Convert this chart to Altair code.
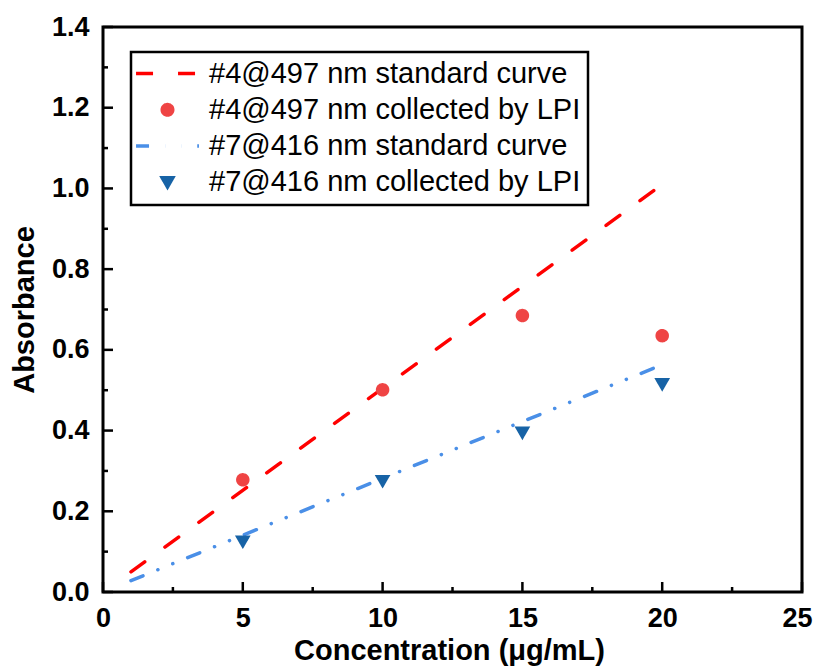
import altair as alt
import pandas as pd

# ---- data ----
series_names = [
    "#4@497 nm standard curve",
    "#4@497 nm collected by LPI",
    "#7@416 nm standard curve",
    "#7@416 nm collected by LPI",
]
series_colors = ["#FF0000", "#EF4444", "#4A8FE7", "#1763A6"]
series_shapes = ["M-6,0H6", "circle", "M-6,0H6", "triangle-down"]
series_dash = [[17, 25], [1, 0], [13, 16, 0.1, 16, 0.1, 16], [1, 0]]

std_x = [1, 20]
std4_y = [0.05, 1.01]
std7_y = [0.028, 0.563]

conc = [5, 10, 15, 20]
lpi4 = [0.278, 0.501, 0.685, 0.635]
lpi7 = [0.125, 0.275, 0.395, 0.515]

x_major = [0, 5, 10, 15, 20, 25]
x_minor = [2.5, 7.5, 12.5, 17.5, 22.5]
y_major = [0.0, 0.2, 0.4, 0.6, 0.8, 1.0, 1.2, 1.4]
y_minor = [0.1, 0.3, 0.5, 0.7, 0.9, 1.1, 1.3]

FONT = "Liberation Sans"
W, H = 699, 565

std_df = pd.DataFrame({
    "x": std_x + std_x,
    "y": std4_y + std7_y,
    "series": [series_names[0]] * 2 + [series_names[2]] * 2,
})
pt_df = pd.DataFrame({
    "x": conc + conc,
    "y": lpi4 + lpi7,
    "series": [series_names[1]] * 4 + [series_names[3]] * 4,
})

xs = alt.Scale(domain=[0, 25], nice=False, zero=False)
ys = alt.Scale(domain=[0, 1.4], nice=False, zero=False)
color_scale = alt.Scale(domain=series_names, range=series_colors)
shape_scale = alt.Scale(domain=series_names, range=series_shapes)
dash_scale = alt.Scale(domain=series_names, range=series_dash)

x_axis = alt.Axis(
    values=x_major, ticks=False, tickSize=0, domain=False, grid=False,
    labelFont=FONT, labelFontSize=27, labelFontWeight="bold", labelColor="black",
    labelPadding=13, labelFlush=False,
    labelOffset={"condition": {"test": "datum.value == 25", "value": -5}, "value": 0},
    title="Concentration (μg/mL)", titleFont=FONT, titleFontSize=29,
    titleFontWeight="bold", titleColor="black", titleBaseline="top",
    titleY=44, titleX=346,
)
y_axis = alt.Axis(
    values=y_major, format=".1f", ticks=False, tickSize=0, domain=False, grid=False,
    labelFont=FONT, labelFontSize=27, labelFontWeight="bold", labelColor="black",
    labelPadding=14, labelFlush=False,
    title="Absorbance", titleFont=FONT, titleFontSize=29, titleFontWeight="bold",
    titleColor="black", titleAngle=270, titleBaseline="middle", titleAlign="center",
    titleX=-79, titleY=H / 2,
)

legend = alt.Legend(
    title=None, orient="none", legendX=28, legendY=25,
    labelFont=FONT, labelFontSize=29, labelColor="black", labelLimit=0,
    symbolSize=110, symbolStrokeWidth=3.5, symbolOpacity=1,
    rowPadding=6.3, labelOffset=27, padding=7, symbolOffset=15,
    strokeColor="black", fillColor="white",
)

X = lambda f: alt.X(f, scale=xs, axis=x_axis)
Y = lambda f: alt.Y(f, scale=ys, axis=y_axis)

lines = alt.Chart(std_df).mark_line(strokeWidth=3.5, strokeCap="round").encode(
    x=X("x:Q"),
    y=Y("y:Q"),
    stroke=alt.Stroke("series:N", scale=color_scale, legend=legend),
    strokeDash=alt.StrokeDash("series:N", scale=dash_scale, legend=legend),
)

points = alt.Chart(pt_df).mark_point(filled=True, size=110, strokeWidth=3, opacity=1).encode(
    x=X("x:Q"),
    y=Y("y:Q"),
    fill=alt.Fill("series:N", scale=alt.Scale(domain=series_names, range=series_colors), legend=legend),
    stroke=alt.Stroke("series:N", scale=color_scale, legend=legend),
    shape=alt.Shape("series:N", scale=shape_scale, legend=legend),
    strokeDash=alt.StrokeDash("series:N", scale=dash_scale, legend=legend),
)

def xticks(vals, length):
    return alt.Chart(pd.DataFrame({"xv": vals})).mark_tick(
        color="black", thickness=2.5, size=length, orient="vertical", opacity=1
    ).encode(
        x=X("xv:Q"),
        y=alt.value(H - length / 2),
    )

def yticks(vals, length):
    return alt.Chart(pd.DataFrame({"yv": vals})).mark_tick(
        color="black", thickness=2.5, size=length, orient="horizontal", opacity=1
    ).encode(
        y=Y("yv:Q"),
        x=alt.value(length / 2),
    )

chart = alt.layer(
    lines, points,
    xticks(x_major, 10), xticks(x_minor, 5),
    yticks(y_major, 10), yticks(y_minor, 5),
).properties(
    width=W, height=H,
    autosize=alt.AutoSizeParams(type="none"),
    padding={"left": 95, "top": 19, "right": 11, "bottom": 78},
    background="white",
).configure_view(
    stroke="black", strokeWidth=3,
).configure_legend(
    strokeWidth=2.5,
)

chart.save("out.html", embed_options={"renderer": "svg", "actions": False})
